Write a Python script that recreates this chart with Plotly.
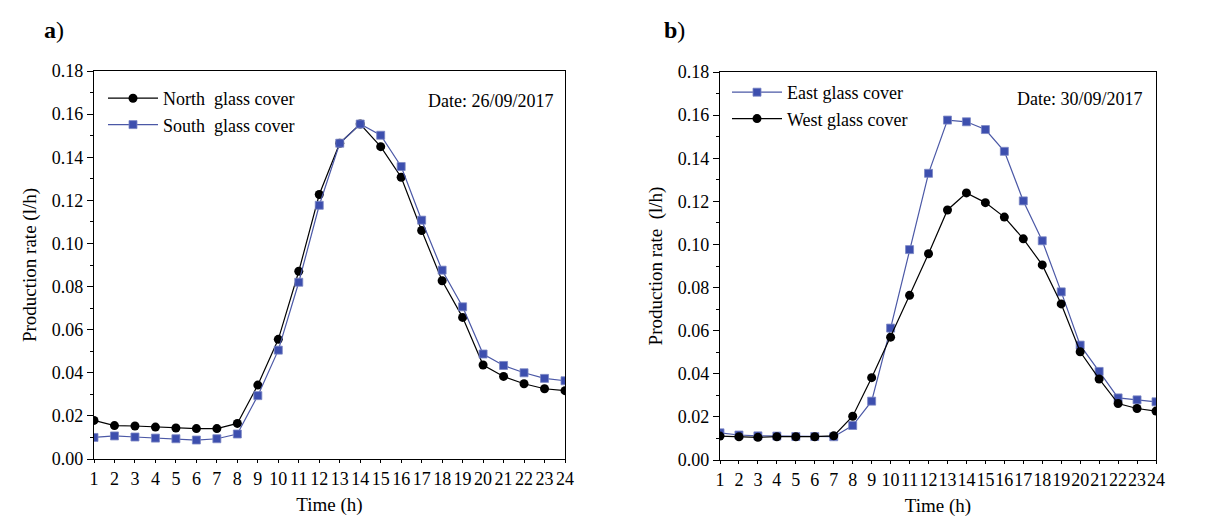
import plotly.graph_objects as go

hours = list(range(1, 25))
x_tick_labels = [str(h) for h in hours]
y_tick_vals = [0.00, 0.02, 0.04, 0.06, 0.08, 0.10, 0.12, 0.14, 0.16, 0.18]
y_minor_vals = [0.01, 0.03, 0.05, 0.07, 0.09, 0.11, 0.13, 0.15, 0.17]
x_major_ticks = [5, 10, 15, 20]

north = [0.0179, 0.0155, 0.0153, 0.0148, 0.0144, 0.0141, 0.0141, 0.0165, 0.0343, 0.0555,
         0.0871, 0.1227, 0.1465, 0.1554, 0.1449, 0.1307, 0.1060, 0.0827, 0.0657, 0.0436,
         0.0383, 0.0349, 0.0326, 0.0317]
south = [0.0100, 0.0107, 0.0102, 0.0097, 0.0094, 0.0088, 0.0094, 0.0116, 0.0294, 0.0505,
         0.0820, 0.1177, 0.1465, 0.1554, 0.1502, 0.1357, 0.1108, 0.0876, 0.0706, 0.0487,
         0.0434, 0.0400, 0.0374, 0.0363]
east = [0.0126, 0.0116, 0.0112, 0.0111, 0.0109, 0.0109, 0.0108, 0.0160, 0.0273, 0.0612,
        0.0976, 0.1330, 0.1577, 0.1569, 0.1533, 0.1432, 0.1202, 0.1017, 0.0780, 0.0533,
        0.0411, 0.0288, 0.0279, 0.0270]
west = [0.0111, 0.0108, 0.0105, 0.0108, 0.0108, 0.0108, 0.0112, 0.0203, 0.0382, 0.0570,
        0.0764, 0.0957, 0.1160, 0.1239, 0.1194, 0.1127, 0.1026, 0.0905, 0.0724, 0.0502,
        0.0376, 0.0262, 0.0239, 0.0227]

FONT = "Liberation Serif"
BLUE = "#3d4fae"
BLUE_LINE = "#4b58a6"
TICK_SIZE = 18
TITLE_SIZE = 19
LEGEND_SIZE = 18

fig = go.Figure()

def black_trace(y, name, xa, ya, legend):
    return go.Scatter(x=hours, y=y, name=name, mode="lines+markers", xaxis=xa, yaxis=ya,
                      legend=legend,
                      line=dict(color="black", width=1.2),
                      marker=dict(symbol="circle", size=9, color="black"))

def blue_trace(y, name, xa, ya, legend):
    return go.Scatter(x=hours, y=y, name=name, mode="lines+markers", xaxis=xa, yaxis=ya,
                      legend=legend,
                      line=dict(color=BLUE_LINE, width=1.2),
                      marker=dict(symbol="square", size=8, color=BLUE,
                                  line=dict(color="#7b86c4", width=0.8)))

fig.add_trace(black_trace(north, "North  glass cover", "x", "y", "legend"))
fig.add_trace(blue_trace(south, "South  glass cover", "x", "y", "legend"))
fig.add_trace(blue_trace(east, "East glass cover", "x2", "y2", "legend2"))
fig.add_trace(black_trace(west, "West glass cover", "x2", "y2", "legend2"))

ydom_a = [1 - 451 / 519, 1 - 63 / 519]
ydom_b = [1 - 452 / 519, 1 - 64 / 519]
xdom_a = [86 / 1215, 557 / 1215]
xdom_b = [712 / 1215, 1148 / 1215]

def xaxis(dom, anchor):
    return dict(domain=dom, anchor=anchor, range=[1, 24], tickmode="array",
                tickvals=hours, ticktext=x_tick_labels, ticks="outside", ticklen=3,
                tickwidth=1, tickcolor="black", showline=True, linecolor="black",
                linewidth=1.2, mirror=True, showgrid=False, zeroline=False,
                automargin=False, tickangle=0,
                tickfont=dict(family=FONT, size=TICK_SIZE, color="black"),
                title=dict(text="Time (h)", font=dict(family=FONT, size=TITLE_SIZE, color="black"),
                           standoff=9))

def xaxis_major(dom, overlay, anchor):
    return dict(domain=dom, anchor=anchor, overlaying=overlay, range=[1, 24],
                tickmode="array", tickvals=x_major_ticks, ticks="outside", ticklen=6,
                tickwidth=1, tickcolor="black", showticklabels=False, showline=False,
                showgrid=False, zeroline=False, automargin=False)

def yaxis(dom, anchor, title):
    return dict(domain=dom, anchor=anchor, range=[0, 0.18], tickmode="array",
                tickvals=y_tick_vals, tickformat=".2f", ticks="outside", ticklen=6,
                tickwidth=1, tickcolor="black", showline=True, linecolor="black",
                linewidth=1.2, mirror=True, showgrid=False, zeroline=False,
                automargin=False,
                minor=dict(tickmode="array", tickvals=y_minor_vals,
                           ticks="outside", ticklen=3, tickcolor="black", showgrid=False),
                tickfont=dict(family=FONT, size=TICK_SIZE, color="black"),
                title=dict(text=title, font=dict(family=FONT, size=TITLE_SIZE, color="black"),
                           standoff=10))

fig.update_layout(
    width=1215, height=519,
    margin=dict(l=0, r=0, t=0, b=0),
    paper_bgcolor="white", plot_bgcolor="white",
    font=dict(family=FONT, color="black"),
    xaxis=xaxis(xdom_a, "y"),
    yaxis=yaxis(ydom_a, "x", "Production rate (l/h)"),
    xaxis2=xaxis(xdom_b, "y2"),
    yaxis2=yaxis(ydom_b, "x2", "Production rate  (l/h)"),
    xaxis3=xaxis_major(xdom_a, "x", "y"),
    xaxis4=xaxis_major(xdom_b, "x2", "y2"),
    legend=dict(x=95 / 1215, y=1 - 72 / 519, xanchor="left", yanchor="top",
                bgcolor="rgba(0,0,0,0)", itemwidth=50, tracegroupgap=0,
                font=dict(family=FONT, size=LEGEND_SIZE, color="black")),
    legend2=dict(x=719 / 1215, y=1 - 66 / 519, xanchor="left", yanchor="top",
                 bgcolor="rgba(0,0,0,0)", itemwidth=50, tracegroupgap=0,
                 font=dict(family=FONT, size=LEGEND_SIZE, color="black")),
    showlegend=True,
)

fig.add_annotation(text="<b>a</b>)", xref="paper", yref="paper", x=34 / 1215, y=1 - 22 / 519,
                   xanchor="left", yanchor="middle", showarrow=False,
                   font=dict(family=FONT, size=24, color="black"))
fig.add_annotation(text="<b>b</b>)", xref="paper", yref="paper", x=654 / 1215, y=1 - 22 / 519,
                   xanchor="left", yanchor="middle", showarrow=False,
                   font=dict(family=FONT, size=24, color="black"))
fig.add_annotation(text="Date: 26/09/2017", xref="x domain", yref="y domain", x=0.978, y=0.923,
                   xanchor="right", yanchor="middle", showarrow=False,
                   font=dict(family=FONT, size=18, color="black"))
fig.add_annotation(text="Date: 30/09/2017", xref="x2 domain", yref="y2 domain", x=0.972, y=0.93,
                   xanchor="right", yanchor="middle", showarrow=False,
                   font=dict(family=FONT, size=18, color="black"))

fig.write_html("out.html")
